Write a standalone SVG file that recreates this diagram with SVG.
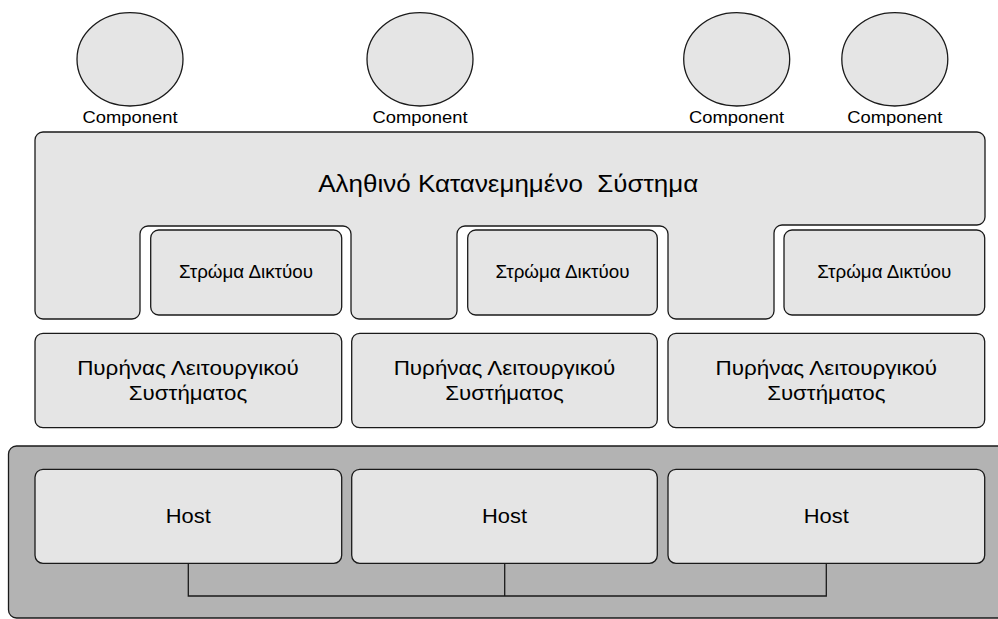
<svg xmlns="http://www.w3.org/2000/svg" width="998" height="619" viewBox="0 0 998 619">
  <style>
    .box { fill: #e5e5e5; stroke: #1a1a1a; stroke-width: 1.3; }
    .base { fill: #b3b3b3; stroke: #1a1a1a; stroke-width: 1.3; }
    .wire { fill: none; stroke: #1a1a1a; stroke-width: 1.3; }
    text { font-family: "Liberation Sans", Arial, sans-serif; fill: #000; text-anchor: middle; }
    .comp { font-size: 17px; }
    .title { font-size: 24.5px; }
    .net { font-size: 17.5px; }
    .kern { font-size: 20px; }
    .host { font-size: 20.5px; }
  </style>

  <rect width="998" height="619" fill="#ffffff"/>

  <!-- components -->
  <g id="component-1">
    <ellipse class="box" cx="130" cy="59.3" rx="53" ry="46.7"/>
    <text class="comp" x="130" y="123.3" textLength="95" lengthAdjust="spacingAndGlyphs">Component</text>
  </g>
  <g id="component-2">
    <ellipse class="box" cx="420" cy="59.3" rx="53" ry="46.7"/>
    <text class="comp" x="420" y="123.3" textLength="95" lengthAdjust="spacingAndGlyphs">Component</text>
  </g>
  <g id="component-3">
    <ellipse class="box" cx="736.7" cy="59.3" rx="53" ry="46.7"/>
    <text class="comp" x="736.5" y="123.3" textLength="95" lengthAdjust="spacingAndGlyphs">Component</text>
  </g>
  <g id="component-4">
    <ellipse class="box" cx="894.8" cy="59.3" rx="53" ry="46.7"/>
    <text class="comp" x="894.8" y="123.3" textLength="95" lengthAdjust="spacingAndGlyphs">Component</text>
  </g>

  <!-- distributed system layer with notches for the network layers -->
  <g id="distributed-system">
    <path class="box" d="M43,132 H977 A8,8 0 0 1 985,140 V217 A8,8 0 0 1 977,225
      H782 A8,8 0 0 0 774,233 V311 A8,8 0 0 1 766,319 H676 A8,8 0 0 1 668,311
      V234 A8,8 0 0 0 660,226 H465 A8,8 0 0 0 457,234 V311 A8,8 0 0 1 449,319
      H359 A8,8 0 0 1 351,311 V234 A8,8 0 0 0 343,226 H148 A8,8 0 0 0 140,234
      V311 A8,8 0 0 1 132,319 H43 A8,8 0 0 1 35,311 V140 A8,8 0 0 1 43,132 Z"/>
    <text class="title" x="508.3" y="191.5" xml:space="preserve" textLength="380" lengthAdjust="spacingAndGlyphs">Αληθινό Κατανεμημένο  Σύστημα</text>
  </g>

  <!-- network layers -->
  <g id="network-1">
    <rect class="box" x="150.7" y="230" width="191" height="85" rx="8"/>
    <text class="net" x="246" y="278" textLength="134" lengthAdjust="spacingAndGlyphs">Στρώμα Δικτύου</text>
  </g>
  <g id="network-2">
    <rect class="box" x="467.7" y="230" width="189.6" height="85" rx="8"/>
    <text class="net" x="562.5" y="278" textLength="134" lengthAdjust="spacingAndGlyphs">Στρώμα Δικτύου</text>
  </g>
  <g id="network-3">
    <rect class="box" x="784" y="230" width="200.7" height="85" rx="8"/>
    <text class="net" x="884.3" y="278" textLength="134" lengthAdjust="spacingAndGlyphs">Στρώμα Δικτύου</text>
  </g>

  <!-- operating system kernels -->
  <g id="kernel-1">
    <rect class="box" x="35" y="333.3" width="306.7" height="94.4" rx="8"/>
    <text class="kern" x="188" y="375" textLength="221.7" lengthAdjust="spacingAndGlyphs">Πυρήνας Λειτουργικού</text>
    <text class="kern" x="188" y="400" textLength="118.3" lengthAdjust="spacingAndGlyphs">Συστήματος</text>
  </g>
  <g id="kernel-2">
    <rect class="box" x="351.7" y="333.3" width="305.6" height="94.4" rx="8"/>
    <text class="kern" x="504.5" y="375" textLength="221.7" lengthAdjust="spacingAndGlyphs">Πυρήνας Λειτουργικού</text>
    <text class="kern" x="504.5" y="400" textLength="118.3" lengthAdjust="spacingAndGlyphs">Συστήματος</text>
  </g>
  <g id="kernel-3">
    <rect class="box" x="668" y="333.3" width="316.7" height="94.4" rx="8"/>
    <text class="kern" x="826.3" y="375" textLength="221.7" lengthAdjust="spacingAndGlyphs">Πυρήνας Λειτουργικού</text>
    <text class="kern" x="826.3" y="400" textLength="118.3" lengthAdjust="spacingAndGlyphs">Συστήματος</text>
  </g>

  <!-- hardware base -->
  <g id="hardware">
    <rect class="base" x="8.5" y="446" width="1010" height="172" rx="8"/>
  </g>

  <!-- network wiring between hosts -->
  <g id="connectors">
    <polyline class="wire" points="188.3,563.3 188.3,596 826.3,596 826.3,563.3"/>
    <line class="wire" x1="504.7" y1="563.3" x2="504.7" y2="596"/>
  </g>

  <g id="host-1">
    <rect class="box" x="35" y="469.3" width="306.7" height="94" rx="8"/>
    <text class="host" x="188.3" y="523.3" textLength="45" lengthAdjust="spacingAndGlyphs">Host</text>
  </g>
  <g id="host-2">
    <rect class="box" x="351.7" y="469.3" width="305.6" height="94" rx="8"/>
    <text class="host" x="504.5" y="523.3" textLength="45" lengthAdjust="spacingAndGlyphs">Host</text>
  </g>
  <g id="host-3">
    <rect class="box" x="668" y="469.3" width="316.7" height="94" rx="8"/>
    <text class="host" x="826.3" y="523.3" textLength="45" lengthAdjust="spacingAndGlyphs">Host</text>
  </g>
</svg>
